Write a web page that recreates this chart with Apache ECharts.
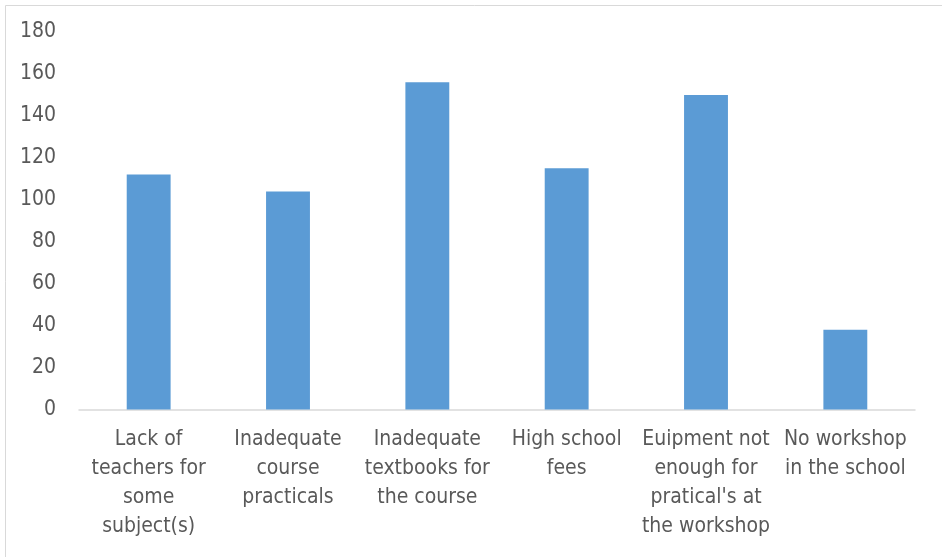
<!DOCTYPE html>
<html>
<head>
<meta charset="utf-8">
<script src="https://cdn.jsdelivr.net/npm/echarts@6/dist/echarts.min.js"></script>
<style>
  html, body { margin: 0; padding: 0; background: #fff; }
  #chart { width: 942px; height: 557px; }
</style>
</head>
<body>
<div id="chart"></div>
<script>
// Reported constraints and how many respondents cited each one
const categories = [
  'Lack of\nteachers for\nsome\nsubject(s)',
  'Inadequate\ncourse\npracticals',
  'Inadequate\ntextbooks for\nthe course',
  'High school\nfees',
  'Euipment not\nenough for\npratical\'s at\nthe workshop',
  'No workshop\nin the school'
];
const counts = [112, 104, 156, 115, 150, 38];

const yMin = 0;
const yMax = 180;
const yStep = 20;

const FONT = "'DejaVu Sans Condensed', sans-serif";
const TEXT = '#595959';

const chart = echarts.init(document.getElementById('chart'), null, { renderer: 'canvas' });
chart.setOption({
  animation: false,
  backgroundColor: '#fff',
  graphic: [{
    type: 'rect',
    left: 3, top: 3,
    shape: { width: 960, height: 580 },
    style: { fill: 'none', stroke: '#d9d9d9', lineWidth: 1 },
    silent: true
  }],
  grid: { left: 79, right: 27, top: 32, bottom: 147.5 },
  xAxis: {
    type: 'category',
    data: categories,
    axisTick: { show: false },
    axisLine: { lineStyle: { color: '#d9d9d9', width: 1.5 } },
    axisLabel: {
      interval: 0,
      margin: 16,
      color: TEXT,
      fontFamily: FONT,
      fontSize: 21,
      lineHeight: 29
    }
  },
  yAxis: {
    type: 'value',
    min: yMin, max: yMax, interval: yStep,
    axisLine: { show: false },
    axisTick: { show: false },
    splitLine: { show: false },
    axisLabel: {
      margin: 23,
      color: TEXT,
      fontFamily: FONT,
      fontSize: 21
    }
  },
  series: [{
    type: 'bar',
    data: counts,
    barWidth: '31.5%',
    itemStyle: { color: '#5b9bd5' }
  }]
});
</script>
</body>
</html>
